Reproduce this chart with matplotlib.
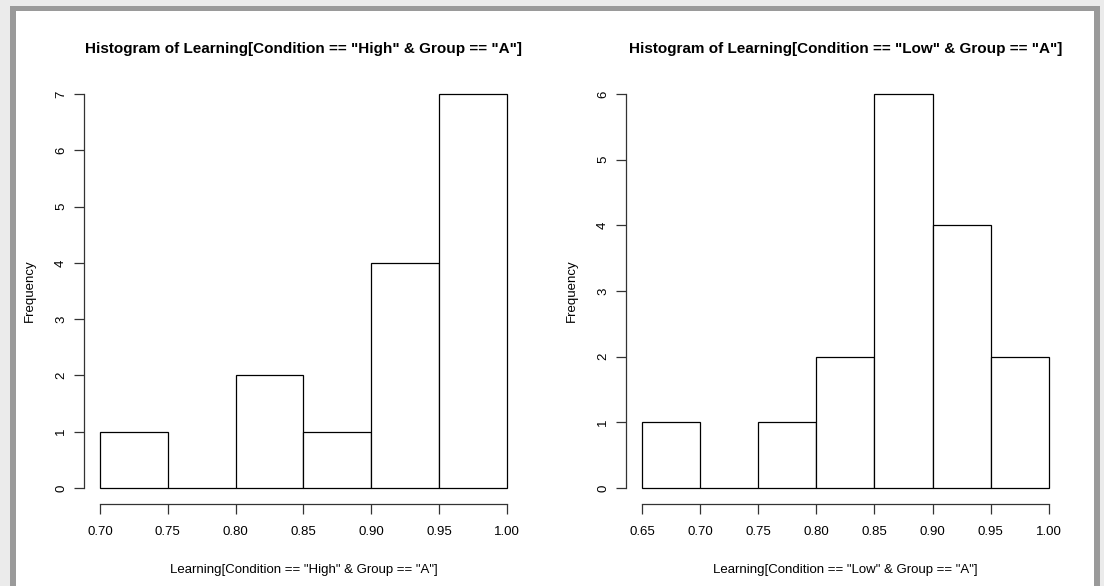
#Histograms of learning scores for group A, split by condition
import matplotlib.pyplot as plt
from matplotlib.patches import Rectangle

#Bin edges and counts for each condition
high_edges = [0.70, 0.75, 0.80, 0.85, 0.90, 0.95, 1.00]
high_counts = [1, 0, 2, 1, 4, 7]
low_edges = [0.65, 0.70, 0.75, 0.80, 0.85, 0.90, 0.95, 1.00]
low_counts = [1, 0, 1, 2, 6, 4, 2]

high_title = 'Histogram of Learning[Condition == "High" & Group == "A"]'
low_title = 'Histogram of Learning[Condition == "Low" & Group == "A"]'
high_xlabel = 'Learning[Condition == "High" & Group == "A"]'
low_xlabel = 'Learning[Condition == "Low" & Group == "A"]'

plt.rcParams['font.family'] = ['Liberation Sans', 'DejaVu Sans']

W, H = 1104, 586
fig = plt.figure(figsize=(W / 100, H / 100), dpi=100)
fig.patch.set_facecolor('#ebebeb')

#window frame: dark grey border with white panel inside
fig.patches.append(Rectangle((10 / W, 0), (1100 - 10) / W, (H - 6) / H,
                             transform=fig.transFigure, facecolor='#9a9a9a',
                             edgecolor='none', zorder=-2))
fig.patches.append(Rectangle((16 / W, 0), (1094 - 16) / W, (H - 11) / H,
                             transform=fig.transFigure, facecolor='white',
                             edgecolor='none', zorder=-1))


def px_axes(x0, x1, y0, y1):
    #pixel box measured from top-left corner
    return fig.add_axes([x0 / W, (H - y1) / H, (x1 - x0) / W, (y1 - y0) / H])


def r_hist(ax, edges, counts, title, xlabel):
    widths = [edges[i + 1] - edges[i] for i in range(len(counts))]
    ax.bar(edges[:-1], counts, width=widths, align='edge', facecolor='white',
           edgecolor='black', linewidth=0.9)
    # R style 4% padding on both axes
    xr = edges[-1] - edges[0]
    ymax = max(counts)
    ax.set_xlim(edges[0] - 0.04 * xr, edges[-1] + 0.04 * xr)
    ax.set_ylim(-0.04 * ymax, ymax * 1.04)
    ax.set_facecolor('none')
    for s in ['top', 'right']:
        ax.spines[s].set_visible(False)
    ax.spines['left'].set_bounds(0, ymax)
    ax.spines['bottom'].set_bounds(edges[0], edges[-1])
    for s in ['left', 'bottom']:
        ax.spines[s].set_color('#333333')
        ax.spines[s].set_linewidth(0.9)
    ax.set_xticks(edges)
    ax.set_xticklabels(['%.2f' % e for e in edges])
    ax.set_yticks(range(0, ymax + 1))
    ax.tick_params(axis='both', length=7, width=0.9, color='#333333',
                   labelsize=9.5)
    ax.tick_params(axis='x', pad=9)
    ax.tick_params(axis='y', pad=5)
    for lab in ax.get_yticklabels():
        lab.set_rotation(90)
        lab.set_va('center')
    ax.set_title(title, fontsize=11, fontweight='bold', pad=18)
    ax.set_xlabel(xlabel, fontsize=9.5, labelpad=19)
    ax.set_ylabel('Frequency', fontsize=9.5, labelpad=14)


ax1 = px_axes(83.8, 523, 78.2, 503.8)
r_hist(ax1, high_edges, high_counts, high_title, high_xlabel)

ax2 = px_axes(625.7, 1065, 78.2, 503.8)
r_hist(ax2, low_edges, low_counts, low_title, low_xlabel)

plt.savefig('out.png', dpi=100, facecolor=fig.get_facecolor())
